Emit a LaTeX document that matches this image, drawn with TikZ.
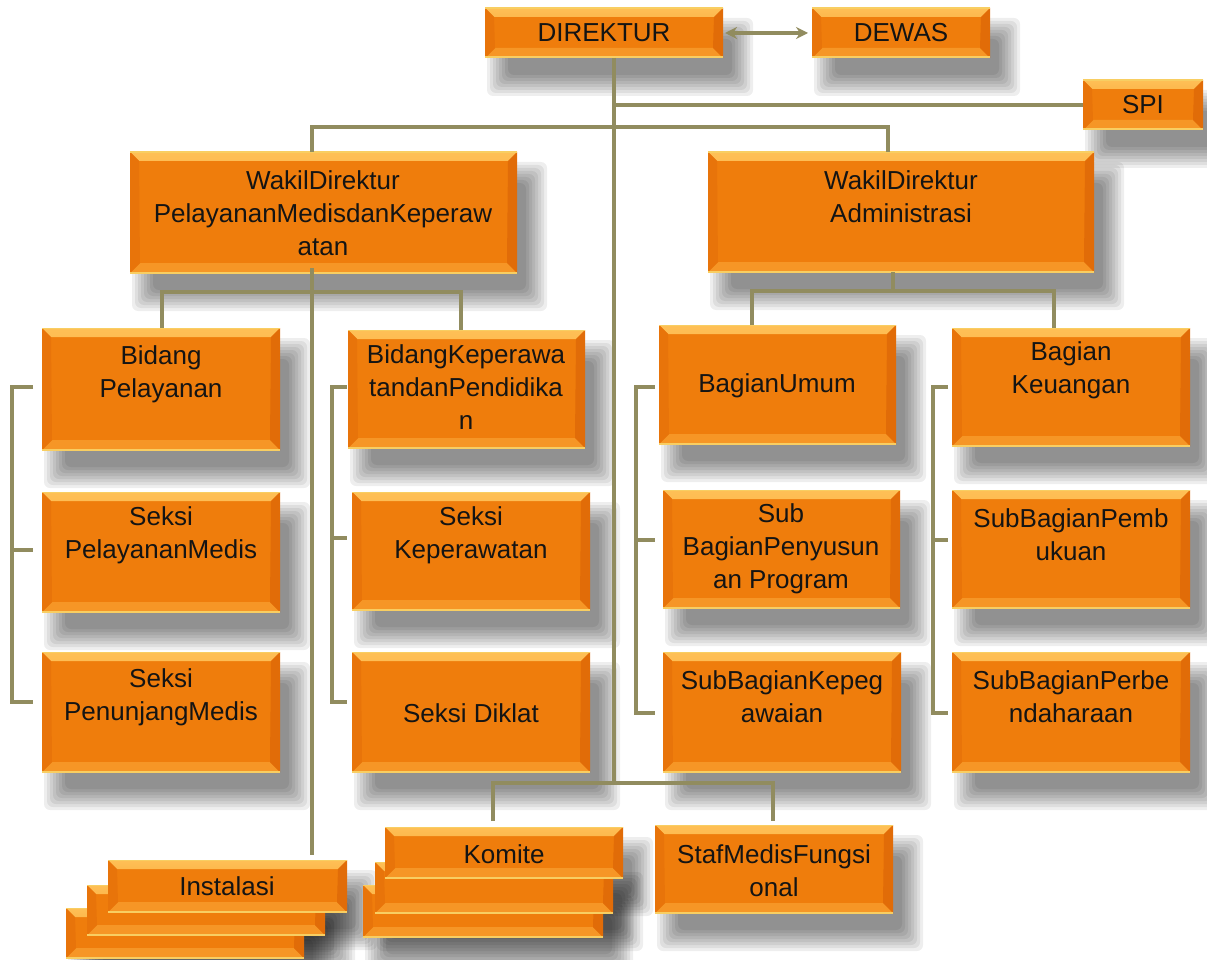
\documentclass[tikz,border=0pt]{standalone}
\usepackage{fontspec}
\setmainfont{Liberation Sans}
\usetikzlibrary{fit,arrows.meta}
\definecolor{boxmid}{RGB}{239,125,12}
\definecolor{boxtopA}{RGB}{254,192,86}
\definecolor{boxtopB}{RGB}{248,146,36}
\definecolor{boxleft}{RGB}{232,116,10}
\definecolor{boxright}{RGB}{225,108,8}
\definecolor{boxbot}{RGB}{246,150,38}
\definecolor{boxedge}{RGB}{248,206,98}
\definecolor{linec}{RGB}{145,140,95}
\pgfdeclarelayer{shadow}
\pgfsetlayers{shadow,main}
\tikzset{
  obox/.style={inner sep=0pt, outer sep=0pt, fill=boxmid, path picture={
    \shade[top color=boxtopA, bottom color=boxtopB]
      (path picture bounding box.north west) -- (path picture bounding box.north east)
      -- ([xshift=-9pt,yshift=-9pt]path picture bounding box.north east)
      -- ([xshift=9pt,yshift=-9pt]path picture bounding box.north west) -- cycle;
    \fill[boxbot]
      (path picture bounding box.south west) -- (path picture bounding box.south east)
      -- ([xshift=-10pt,yshift=10pt]path picture bounding box.south east)
      -- ([xshift=10pt,yshift=10pt]path picture bounding box.south west) -- cycle;
    \fill[boxleft]
      (path picture bounding box.north west) -- ([xshift=9pt,yshift=-9pt]path picture bounding box.north west)
      -- ([xshift=10pt,yshift=10pt]path picture bounding box.south west) -- (path picture bounding box.south west) -- cycle;
    \fill[boxright]
      (path picture bounding box.north east) -- ([xshift=-9pt,yshift=-9pt]path picture bounding box.north east)
      -- ([xshift=-10pt,yshift=10pt]path picture bounding box.south east) -- (path picture bounding box.south east) -- cycle;
    \draw[boxedge, line width=3pt] (path picture bounding box.south west) -- (path picture bounding box.south east);
    \draw[boxedge, line width=2pt] (path picture bounding box.north west) -- (path picture bounding box.north east);
  }},
  txt/.style={font=\fontsize{26}{33}\selectfont, align=center, text=black!92, inner sep=0pt},
  conn/.style={draw=linec, line width=3.5pt},
}
\newcommand\orgbox[5]{%
  \begin{pgfonlayer}{shadow}
    \foreach \e in {14,11,8,5,2,-1,-4,-7}{
      \fill[black,opacity=0.065,rounded corners=6pt] ({#2+16-(\e)},{#3+24-(\e)}) rectangle ({#4+16+(\e)},{#5+24+(\e)});
    }
  \end{pgfonlayer}
  \node[obox, fit={(#2,#3) (#4,#5)}] (#1) {};
}
\begin{document}
\begin{tikzpicture}[x=1pt,y=-1pt]
\begin{pgfonlayer}{shadow}
  \fill[white] (0,0) rectangle (1207,960);
\end{pgfonlayer}
\useasboundingbox (0,0) rectangle (1207,960);

% boxes
\orgbox{dir}{485}{8}{723}{58}
\orgbox{dewas}{812}{8}{990}{58}
\orgbox{spi}{1083}{80}{1203}{130}
\orgbox{wdp}{130}{152}{517}{273}
\orgbox{wda}{708}{152}{1094}{272}
\orgbox{bp}{42}{328}{280}{450}
\orgbox{bk}{348}{330}{585}{448}
\orgbox{spm}{42}{492}{280}{612}
\orgbox{spn}{42}{652}{280}{772}
\orgbox{skp}{352}{492}{590}{610}
\orgbox{sdk}{352}{652}{590}{772}
\orgbox{bu}{659}{325}{896}{444}
\orgbox{bkeu}{952}{328}{1190}{446}
\orgbox{sbp}{663}{490}{900}{608}
\orgbox{sbk}{663}{652}{901}{772}
\orgbox{sbpb}{952}{490}{1190}{608}
\orgbox{sbpr}{952}{652}{1190}{772}
\orgbox{staf}{655}{825}{893}{913}
\orgbox{kom3}{363}{885}{603}{937}
\orgbox{kom2}{375}{862}{613}{913}
\orgbox{kom}{385}{827}{623}{878}
\orgbox{ins3}{66}{908}{304}{958}
\orgbox{ins2}{87}{885}{325}{935}
\orgbox{ins}{108}{860}{347}{912}

% texts
\node[txt] (t-dir) at (604,33) {DIREKTUR};
\node[txt] (t-dewas) at (901,33) {DEWAS};
\node[txt] (t-spi) at (1143,105) {SPI};
\node[txt] (t-wdp) at (323,213) {WakilDirektur\\PelayananMedisdanKeperaw\\atan};
\node[txt] (t-wda) at (901,197) {WakilDirektur\\Administrasi};
\node[txt] (t-bp) at (161,374) {Bidang\\Pelayanan};
\node[txt] (t-bk) at (466,387) {BidangKeperawa\\tandanPendidika\\n};
\node[txt] (t-spm) at (161,535) {Seksi\\PelayananMedis};
\node[txt] (t-spn) at (161,697) {Seksi\\PenunjangMedis};
\node[txt] (t-skp) at (471,535) {Seksi\\Keperawatan};
\node[txt] (t-sdk) at (471,713) {Seksi Diklat};
\node[txt] (t-bu) at (777,386) {BagianUmum};
\node[txt] (t-bkeu) at (1071,370) {Bagian\\Keuangan};
\node[txt] (t-sbp) at (781,549) {Sub\\BagianPenyusun\\an Program};
\node[txt] (t-sbk) at (782,697) {SubBagianKepeg\\awaian};
\node[txt] (t-sbpb) at (1071,535) {SubBagianPemb\\ukuan};
\node[txt] (t-sbpr) at (1071,697) {SubBagianPerbe\\ndaharaan};
\node[txt] (t-staf) at (774,871) {StafMedisFungsi\\onal};
\node[txt] (t-kom) at (504,854) {Komite};
\node[txt] (t-ins) at (227,886) {Instalasi};

% connectors
\coordinate (tr) at (614,783);
\coordinate (a1) at (312,127);
\coordinate (a2) at (888,127);
\coordinate (b1) at (162,292);
\coordinate (b2) at (461,292);
\coordinate (c0) at (893,291);
\coordinate (c1) at (752,291);
\coordinate (c2) at (1054,291);
\coordinate (k1) at (493,783);
\coordinate (k2) at (773,783);

\draw[conn, line width=4pt, arrows={Stealth[length=12pt,width=12pt]-Stealth[length=12pt,width=12pt]}]
  ([xshift=2pt]dir.east) -- ([xshift=-4pt]dewas.west);
\draw[conn] (dir.south -| tr) -- (tr);
\draw[conn] (spi.west) -- (spi.west -| tr);
\draw[conn] (wdp.north -| a1) -- (a1) -- (a2) -- (wda.north -| a2);
\draw[conn] ([yshift=5pt]wdp.south -| a1) -- ([yshift=5pt]ins.north -| a1);
\draw[conn] (bp.north -| b1) -- (b1) -- (b2) -- (bk.north -| b2);
\draw[conn] (wda.south -| c0) -- (c0);
\draw[conn] (bu.north -| c1) -- (c1) -- (c2) -- (bkeu.north -| c2);
\draw[conn] ([yshift=6pt]kom.north -| k1) -- (k1) -- (k2) -- ([yshift=4pt]staf.north -| k2);

% brackets
\coordinate (l1t) at (33,387); \coordinate (l1m) at (33,550); \coordinate (l1b) at (33,702);
\draw[conn] (l1t) -| (12,702) -- (l1b);
\draw[conn] (12,550) -- (l1m);
\coordinate (l2t) at (347,387); \coordinate (l2m) at (347,538); \coordinate (l2b) at (347,702);
\draw[conn] (l2t) -| (332,702) -- (l2b);
\draw[conn] (332,538) -- (l2m);
\coordinate (l3t) at (655,387); \coordinate (l3m) at (655,540); \coordinate (l3b) at (655,713);
\draw[conn] (l3t) -| (636,713) -- (l3b);
\draw[conn] (636,540) -- (l3m);
\coordinate (l4t) at (948,387); \coordinate (l4m) at (948,540); \coordinate (l4b) at (948,713);
\draw[conn] (l4t) -| (933,713) -- (l4b);
\draw[conn] (933,540) -- (l4m);
\end{tikzpicture}
\end{document}
